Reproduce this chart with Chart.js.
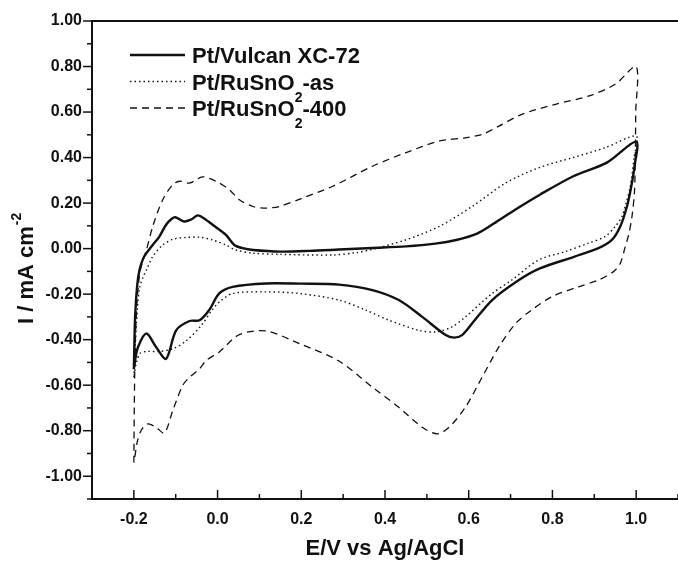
<!DOCTYPE html>
<html>
<head>
<meta charset="utf-8">
<title>Cyclic voltammograms</title>
<script src="https://cdn.jsdelivr.net/npm/chart.js@4.4.1/dist/chart.umd.min.js"></script>
<style>
  html, body { margin: 0; padding: 0; background: #fff; }
  #wrap { width: 678px; height: 564px; }
</style>
</head>
<body>
<div id="wrap"><canvas id="cv" width="678" height="564"></canvas></div>
<script>
// E in V vs Ag/AgCl, I in mA cm-2.
// Every loop starts at -0.2 V, goes anodic up to 1.0 V and comes back.
const vulcanE = [-0.200, -0.197, -0.192, -0.186, -0.178, -0.170, -0.155, -0.139, -0.123, -0.110, -0.101,
    -0.080, -0.063, -0.047, -0.028, -0.006, 0.020, 0.040, 0.060, 0.085, 0.15, 0.22, 0.29, 0.37, 0.45,
    0.52, 0.57, 0.62, 0.66, 0.71, 0.77, 0.85, 0.93, 1.000,
    0.996, 0.988, 0.978, 0.962, 0.942, 0.910, 0.850, 0.770, 0.720, 0.656, 0.608, 0.584, 0.565, 0.545,
    0.489, 0.433, 0.370, 0.290, 0.200, 0.116, 0.036, 0.004, -0.020, -0.043, -0.067, -0.099, -0.123,
    -0.147, -0.170, -0.190, -0.198, -0.200];
const vulcanI = [-0.53, -0.30, -0.16, -0.09, -0.045, -0.020, 0.016, 0.053, 0.105, 0.130, 0.138,
    0.119, 0.128, 0.146, 0.127, 0.097, 0.060, 0.016, 0.002, -0.006, -0.013, -0.010, -0.004, 0.003, 0.010,
    0.022, 0.038, 0.066, 0.110, 0.170, 0.237, 0.318, 0.378, 0.470,
    0.360, 0.270, 0.185, 0.097, 0.038, 0.002, -0.037, -0.087, -0.138, -0.226, -0.329, -0.380, -0.391, -0.380,
    -0.300, -0.226, -0.182, -0.158, -0.154, -0.153, -0.168, -0.197, -0.270, -0.315, -0.318, -0.359, -0.484,
    -0.432, -0.373, -0.432, -0.500, -0.530];

const asE = [-0.200, -0.196, -0.191, -0.186, -0.178, -0.170, -0.155, -0.131, -0.107, -0.075, -0.043,
    -0.012, 0.020, 0.044, 0.084, 0.147, 0.274, 0.330, 0.370, 0.449, 0.529, 0.608, 0.688, 0.767, 0.847,
    0.926, 1.000,
    0.995, 0.986, 0.976, 0.966, 0.950, 0.926, 0.886, 0.831, 0.767, 0.703, 0.656, 0.592, 0.560, 0.521,
    0.481, 0.410, 0.354, 0.290, 0.195, 0.116, 0.036, 0.004, -0.015, -0.040, -0.075, -0.107, -0.140,
    -0.170, -0.185, -0.194, -0.200];
const asI = [-0.565, -0.40, -0.25, -0.17, -0.125, -0.094, -0.035, 0.016, 0.041, 0.049, 0.050,
    0.038, 0.016, -0.006, -0.020, -0.025, -0.028, -0.018, -0.003, 0.038, 0.097, 0.185, 0.288, 0.355, 0.399,
    0.443, 0.494,
    0.400, 0.273, 0.200, 0.141, 0.097, 0.053, 0.024, -0.013, -0.050, -0.138, -0.197, -0.300, -0.344, -0.366,
    -0.359, -0.315, -0.270, -0.226, -0.197, -0.190, -0.197, -0.235, -0.275, -0.340, -0.405, -0.440, -0.452,
    -0.452, -0.460, -0.500, -0.565];

const c400E = [-0.200, -0.199, -0.197, -0.193, -0.186, -0.178, -0.170, -0.155, -0.131, -0.107, -0.091,
    -0.067, -0.036, -0.004, 0.028, 0.052, 0.084, 0.110, 0.147, 0.200, 0.274, 0.370, 0.449, 0.529, 0.592,
    0.632, 0.672, 0.727, 0.807, 0.886, 0.950, 1.000,
    0.999, 0.998, 0.996, 0.990, 0.982, 0.974, 0.962, 0.946, 0.910, 0.862, 0.800, 0.750, 0.712, 0.672,
    0.632, 0.592, 0.553, 0.525, 0.489, 0.433, 0.370, 0.290, 0.195, 0.116, 0.052, 0.004, -0.027, -0.043,
    -0.067, -0.083, -0.107, -0.127, -0.147, -0.167, -0.183, -0.192, -0.198, -0.200];
const c400I = [-0.94, -0.70, -0.45, -0.25, -0.11, -0.05, -0.006, 0.097, 0.215, 0.281, 0.296,
    0.288, 0.315, 0.296, 0.259, 0.215, 0.185, 0.178, 0.185, 0.220, 0.273, 0.362, 0.421, 0.472, 0.487,
    0.502, 0.538, 0.590, 0.634, 0.670, 0.722, 0.800,
    0.600, 0.400, 0.250, 0.140, 0.060, 0.009, -0.065, -0.101, -0.138, -0.168, -0.210, -0.270, -0.329, -0.432,
    -0.565, -0.697, -0.785, -0.814, -0.785, -0.697, -0.609, -0.494, -0.417, -0.362, -0.378, -0.454, -0.491, -0.528,
    -0.565, -0.600, -0.711, -0.810, -0.785, -0.770, -0.800, -0.850, -0.920, -0.940];

const eMajor = [-0.2, 0.0, 0.2, 0.4, 0.6, 0.8, 1.0];
const eMinor = [-0.3, -0.1, 0.1, 0.3, 0.5, 0.7, 0.9, 1.1];
const iMajor = [-1.0, -0.8, -0.6, -0.4, -0.2, 0.0, 0.2, 0.4, 0.6, 0.8, 1.0];
const iMinor = [-1.1, -0.9, -0.7, -0.5, -0.3, -0.1, 0.1, 0.3, 0.5, 0.7, 0.9];

const FONT = "'Liberation Sans', Arial, Helvetica, sans-serif";
const INK = '#111';

function toPoints(xs, ys) {
    return xs.map((x, k) => ({ x: x, y: ys[k] }));
}

const series = [
    { main: 'Pt/Vulcan XC-72', sub: '', tail: '', e: vulcanE, i: vulcanI, width: 2.4, dash: [] },
    { main: 'Pt/RuSnO', sub: '2', tail: '-as', e: asE, i: asI, width: 1.4, dash: [1.5, 3] },
    { main: 'Pt/RuSnO', sub: '2', tail: '-400', e: c400E, i: c400I, width: 1.3, dash: [7, 5] },
];

function allTicks(major, minor) {
    return major.concat(minor).sort((a, b) => a - b).map((v) => ({ value: v }));
}

function isMajor(list, v) {
    return list.some((m) => Math.abs(m - v) < 1e-9);
}

// no extra room for edge labels, the plot runs to the canvas edge
function noPadding(scale) {
    scale.paddingLeft = 0;
    scale.paddingRight = 0;
    scale.paddingTop = 0;
    scale.paddingBottom = 0;
}

// ticks, top frame line, y title and legend are drawn by hand
const decor = {
    id: 'decor',
    afterDraw(chart) {
        const ctx = chart.ctx;
        const area = chart.chartArea;
        const xs = chart.scales.x;
        const ys = chart.scales.y;

        ctx.save();
        ctx.strokeStyle = INK;
        ctx.lineWidth = 2;
        ctx.beginPath();
        ctx.moveTo(area.left - 1, area.top);
        ctx.lineTo(area.right, area.top);
        ctx.stroke();

        // y ticks point outward, x ticks point inward
        ctx.lineWidth = 1.5;
        ys.ticks.forEach((t) => {
            const py = ys.getPixelForValue(t.value);
            const len = isMajor(iMajor, t.value) ? 9 : 5;
            ctx.beginPath();
            ctx.moveTo(area.left - len, py);
            ctx.lineTo(area.left, py);
            ctx.stroke();
        });
        xs.ticks.forEach((t) => {
            const px = xs.getPixelForValue(t.value);
            const len = isMajor(eMajor, t.value) ? 9 : 5;
            ctx.beginPath();
            ctx.moveTo(px, area.bottom);
            ctx.lineTo(px, area.bottom - len);
            ctx.stroke();
        });

        // y axis title with superscript
        ctx.fillStyle = INK;
        ctx.save();
        ctx.translate(33, 324);
        ctx.rotate(-Math.PI / 2);
        ctx.font = 'bold 22px ' + FONT;
        ctx.textAlign = 'left';
        ctx.textBaseline = 'alphabetic';
        ctx.fillText('I / mA cm', 0, 0);
        const w = ctx.measureText('I / mA cm').width;
        ctx.font = 'bold 14px ' + FONT;
        ctx.fillText('-2', w + 1, -12);
        ctx.restore();

        // legend
        const x0 = area.left + 38;
        const x1 = area.left + 93;
        series.forEach((s, k) => {
            const y = area.top + 34 + k * 26.5;
            ctx.lineWidth = s.width;
            ctx.setLineDash(s.dash);
            ctx.beginPath();
            ctx.moveTo(x0, y);
            ctx.lineTo(x1, y);
            ctx.stroke();
            ctx.setLineDash([]);

            let tx = x1 + 7;
            ctx.font = 'bold 22px ' + FONT;
            ctx.textAlign = 'left';
            ctx.textBaseline = 'alphabetic';
            ctx.fillText(s.main, tx, y + 8);
            tx += ctx.measureText(s.main).width;
            if (s.sub) {
                ctx.font = 'bold 14px ' + FONT;
                ctx.fillText(s.sub, tx, y + 20);
                tx += ctx.measureText(s.sub).width;
                ctx.font = 'bold 22px ' + FONT;
                ctx.fillText(s.tail, tx, y + 8);
            }
        });
        ctx.restore();
    },
};

new Chart(document.getElementById('cv'), {
    type: 'line',
    data: {
        datasets: series.map((s) => ({
            label: s.main + s.sub + s.tail,
            data: toPoints(s.e, s.i),
            borderColor: INK,
            borderWidth: s.width,
            borderDash: s.dash,
            pointRadius: 0,
            tension: 0.3,
            fill: false,
        })),
    },
    options: {
        responsive: false,
        devicePixelRatio: 1,
        animation: false,
        layout: { autoPadding: false, padding: { top: 21, right: 0, bottom: 0, left: 0 } },
        plugins: {
            legend: { display: false },
            tooltip: { enabled: false },
        },
        scales: {
            x: {
                type: 'linear',
                min: -0.3,
                max: 1.1,
                afterBuildTicks: (scale) => { scale.ticks = allTicks(eMajor, eMinor); },
                afterFit: (scale) => { scale.height = 65; noPadding(scale); },
                grid: { display: false, drawTicks: false },
                border: { display: true, color: INK, width: 2 },
                ticks: {
                    autoSkip: false,
                    maxRotation: 0,
                    padding: 11,
                    color: INK,
                    font: { family: FONT, size: 16, weight: 'bold' },
                    callback: (v) => (isMajor(eMajor, v) ? (Math.round(v * 10) / 10).toFixed(1) : ''),
                },
                title: {
                    display: true,
                    text: 'E/V vs Ag/AgCl',
                    color: INK,
                    font: { family: FONT, size: 22, weight: 'bold' },
                    padding: { top: 0, bottom: 2 },
                },
            },
            y: {
                type: 'linear',
                min: -1.1,
                max: 1.0,
                afterBuildTicks: (scale) => { scale.ticks = allTicks(iMajor, iMinor); },
                afterFit: (scale) => { scale.width = 92; noPadding(scale); },
                grid: { display: false, drawTicks: false },
                border: { display: true, color: INK, width: 2 },
                ticks: {
                    autoSkip: false,
                    padding: 10,
                    color: INK,
                    font: { family: FONT, size: 16, weight: 'bold' },
                    callback: (v) => (isMajor(iMajor, v) ? (Math.round(v * 10) / 10).toFixed(2) : ''),
                },
            },
        },
    },
    plugins: [decor],
});
</script>
</body>
</html>
